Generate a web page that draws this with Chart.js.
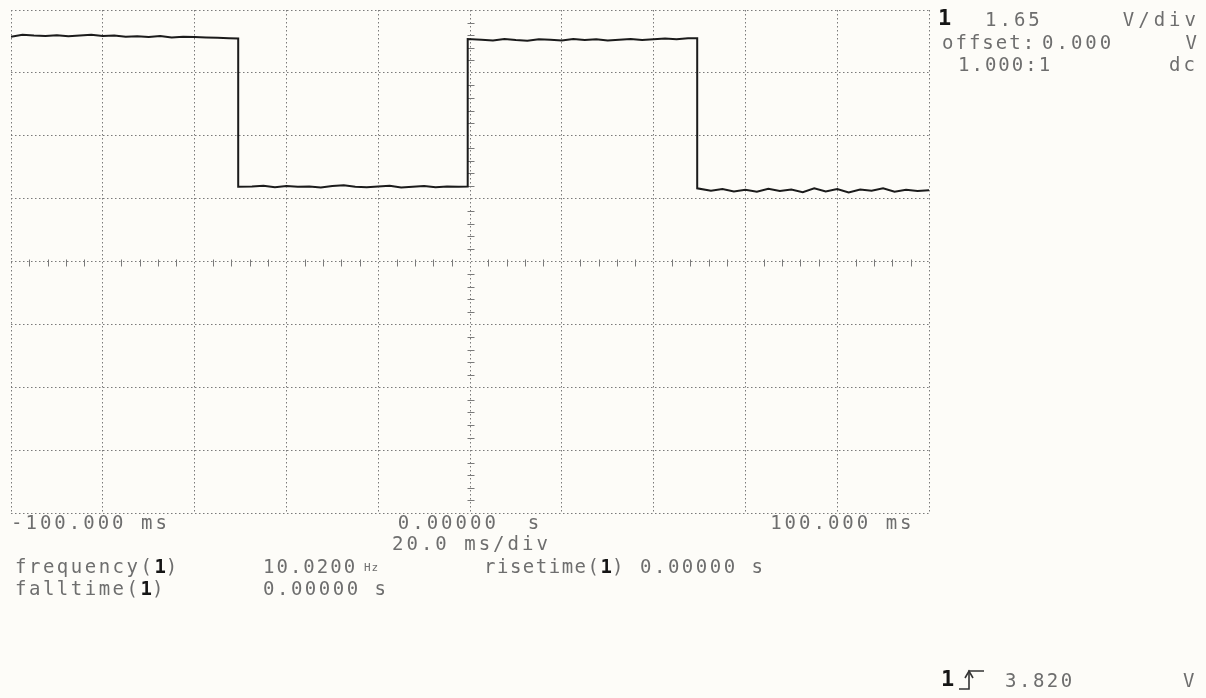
<!DOCTYPE html>
<html>
<head>
<meta charset="utf-8">
<script src="https://cdn.jsdelivr.net/npm/chart.js@4.4.0/dist/chart.umd.min.js"></script>
<style>
  html, body { margin: 0; padding: 0; background: #fdfcf8; }
  #wrap { position: relative; width: 1206px; height: 698px; overflow: hidden; background: #fdfcf8; }
  #scope { position: absolute; left: 0; top: 0; }
  .t { position: absolute; font-family: "DejaVu Sans Mono", monospace; font-size: 19px; letter-spacing: 3px;
       color: #6e6e6e; line-height: 20px; white-space: pre; }
  .b { font-weight: bold; color: #151515; letter-spacing: 0; }
  .r { text-align: right; }
  .hz { font-size: 11px; letter-spacing: 1px; }
</style>
</head>
<body>
<div id="wrap">
  <canvas id="scope" width="1206" height="698"></canvas>

  <div class="t b" style="left:938px;top:8px;font-size:22px">1</div>
  <div class="t" style="left:985px;top:9px">1.65</div>
  <div class="t r" style="right:6px;top:9px;letter-spacing:4px">V/div</div>
  <div class="t" style="left:942px;top:32px;letter-spacing:2px">offset:</div>
  <div class="t" style="left:1042px;top:32px">0.000</div>
  <div class="t r" style="right:6px;top:32px">V</div>
  <div class="t" style="left:958px;top:54px;letter-spacing:2px">1.000:1</div>
  <div class="t r" style="right:8px;top:54px">dc</div>

  <div class="t" style="left:392px;top:533px">20.0 ms/div</div>
  <div class="t" style="left:15px;top:556px;letter-spacing:2.5px">frequency(<span class="b">1</span>)</div>
  <div class="t" style="left:263px;top:556px;letter-spacing:2px">10.0200</div>
  <div class="t hz" style="left:364px;top:558px">Hz</div>
  <div class="t" style="left:484px;top:556px;letter-spacing:1.5px">risetime(<span class="b">1</span>)</div>
  <div class="t" style="left:640px;top:556px;letter-spacing:2.5px">0.00000 s</div>
  <div class="t" style="left:15px;top:578px;letter-spacing:2.5px">falltime(<span class="b">1</span>)</div>
  <div class="t" style="left:263px;top:578px;letter-spacing:2.5px">0.00000 s</div>

  <div class="t b" style="left:941px;top:669px;font-size:22px">1</div>
  <svg style="position:absolute;left:958px;top:668px" width="28" height="24">
    <path d="M1 21 H11 V3 H26" fill="none" stroke="#333" stroke-width="1.6"/>
    <path d="M7 10 L11 3 L15 10" fill="none" stroke="#333" stroke-width="1.6"/>
  </svg>
  <div class="t" style="left:1005px;top:670px;letter-spacing:2.5px">3.820</div>
  <div class="t" style="left:1183px;top:670px">V</div>
</div>

<script>
// trace (time in ms, channel 1 in volts)
const timeMs = [
  -100, -97.5, -95, -92.5, -90, -87.5, -85, -82.5, -80, -77.5, -75, -72.5, -70, -67.5, -65, -62.5, -60, -57.5, -55, -52.5, -50.5,
  -50.5,
  -47.5, -45, -42.5, -40, -37.5, -35, -32.5, -30, -27.5, -25, -22.5, -20, -17.5, -15, -12.5, -10, -7.5, -5, -2.5, -0.5,
  -0.5,
  2.5, 5, 7.5, 10, 12.5, 15, 17.5, 20, 22.5, 25, 27.5, 30, 32.5, 35, 37.5, 40, 42.5, 45, 47.5, 49.5,
  49.5,
  52.5, 55, 57.5, 60, 62.5, 65, 67.5, 70, 72.5, 75, 77.5, 80, 82.5, 85, 87.5, 90, 92.5, 95, 97.5, 100
];
const voltage = [
  5.90, 5.95, 5.93, 5.92, 5.94, 5.91, 5.93, 5.95, 5.92, 5.93, 5.90, 5.91, 5.89, 5.92, 5.88, 5.90, 5.89, 5.88, 5.87, 5.86, 5.85,
  1.96,
  1.97, 1.99, 1.95, 1.98, 1.96, 1.97, 1.94, 1.98, 2.00, 1.96, 1.95, 1.97, 1.99, 1.94, 1.96, 1.98, 1.95, 1.97, 1.96, 1.97,
  5.84,
  5.82, 5.80, 5.84, 5.81, 5.79, 5.83, 5.82, 5.80, 5.84, 5.81, 5.83, 5.80, 5.82, 5.84, 5.81, 5.83, 5.85, 5.83, 5.86, 5.86,
  1.92,
  1.86, 1.90, 1.84, 1.88, 1.83, 1.91, 1.85, 1.89, 1.82, 1.92, 1.84, 1.90, 1.81, 1.89, 1.86, 1.92, 1.83, 1.88, 1.85, 1.87
];

// 20 ms/div, 1.65 V/div
const timeTicks = [-100, -80, -60, -40, -20, 0, 20, 40, 60, 80, 100];
const timeTickLabels = ['-100.000 ms', '', '', '', '', '0.00000  s', '', '', '', '', '100.000 ms '];
const voltTicks = [-6.6, -4.95, -3.3, -1.65, 0, 1.65, 3.3, 4.95, 6.6];

const gridColor = '#7a7a7a';
const minorPerDiv = 5;

// wider character spacing for the canvas tick labels
const spacing = {
  id: 'spacing',
  beforeDraw(chart) { chart.ctx.letterSpacing = '3px'; }
};

// small tick marks along the centre cross
const centerTicks = {
  id: 'centerTicks',
  beforeDatasetsDraw(chart) {
    const {ctx, scales: {x, y}} = chart;
    const x0 = Math.round(x.getPixelForValue(0)) + 0.5;
    const y0 = Math.round(y.getPixelForValue(0)) + 0.5;
    ctx.save();
    ctx.strokeStyle = gridColor;
    ctx.lineWidth = 1;
    ctx.beginPath();
    for (let i = 0; i < timeTicks.length - 1; i++) {
      for (let k = 1; k < minorPerDiv; k++) {
        const v = timeTicks[i] + (timeTicks[i + 1] - timeTicks[i]) * k / minorPerDiv;
        const px = Math.round(x.getPixelForValue(v)) + 0.5;
        ctx.moveTo(px, y0 - 3);
        ctx.lineTo(px, y0 + 4);
      }
    }
    for (let i = 0; i < voltTicks.length - 1; i++) {
      for (let k = 1; k < minorPerDiv; k++) {
        const v = voltTicks[i] + (voltTicks[i + 1] - voltTicks[i]) * k / minorPerDiv;
        const py = Math.round(y.getPixelForValue(v)) + 0.5;
        ctx.moveTo(x0 - 3, py);
        ctx.lineTo(x0 + 4, py);
      }
    }
    ctx.stroke();
    ctx.restore();
  }
};

const points = timeMs.map((t, i) => ({x: t, y: voltage[i]}));

new Chart(document.getElementById('scope'), {
  type: 'line',
  data: {
    datasets: [{
      data: points,
      borderColor: '#1b1b1b',
      borderWidth: 2,
      pointRadius: 0,
      tension: 0,
      fill: false
    }]
  },
  options: {
    responsive: false,
    animation: false,
    devicePixelRatio: 1,
    layout: {padding: {left: 11, top: 10, right: 277, bottom: 0}},
    plugins: {legend: {display: false}, tooltip: {enabled: false}},
    scales: {
      x: {
        type: 'linear',
        min: -100,
        max: 100,
        afterBuildTicks: (s) => { s.ticks = timeTicks.map(v => ({value: v})); },
        afterFit: (s) => { s.height = 185; },
        grid: {color: gridColor, lineWidth: 1, drawTicks: false},
        border: {display: false, dash: [1.5, 2.5]},
        ticks: {
          autoSkip: false,
          maxRotation: 0,
          align: 'inner',
          padding: 0,
          color: '#6e6e6e',
          font: {family: 'DejaVu Sans Mono', size: 19},
          callback: (v, i) => timeTickLabels[i]
        }
      },
      y: {
        type: 'linear',
        min: -6.6,
        max: 6.6,
        afterBuildTicks: (s) => { s.ticks = voltTicks.map(v => ({value: v})); },
        afterFit: (s) => { s.width = 0; },
        grid: {color: gridColor, lineWidth: 1, drawTicks: false},
        border: {display: false, dash: [1.5, 2.5]},
        ticks: {display: false}
      }
    }
  },
  plugins: [spacing, centerTicks]
});
</script>
</body>
</html>
